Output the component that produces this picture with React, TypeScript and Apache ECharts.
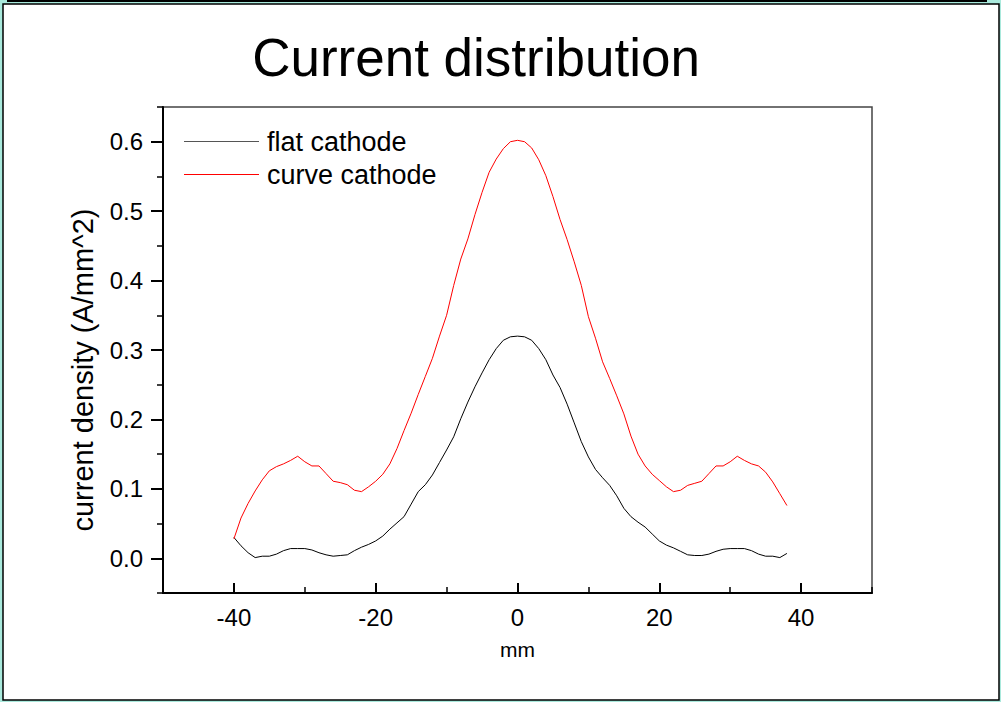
import React, { useEffect, useRef } from "react";
import * as echarts from "echarts";

const xValues = [
  -40, -39, -38, -37, -36, -35, -34, -33, -32, -31, -30, -29, -28, -27, -26, -25, -24, -23, -22, -21,
  -20, -19, -18, -17, -16, -15, -14, -13, -12, -11, -10, -9, -8, -7, -6, -5, -4, -3, -2, -1,
  0, 1, 2, 3, 4, 5, 6, 7, 8, 9, 10, 11, 12, 13, 14, 15, 16, 17, 18, 19,
  20, 21, 22, 23, 24, 25, 26, 27, 28, 29, 30, 31, 32, 33, 34, 35, 36, 37, 38,
];

const flatCathode = [
  0.030, 0.018, 0.008, 0.001, 0.003, 0.003, 0.006, 0.011, 0.014, 0.014, 0.014, 0.012, 0.008, 0.005, 0.003, 0.004, 0.005, 0.011, 0.016, 0.020,
  0.025, 0.032, 0.042, 0.051, 0.060, 0.078, 0.096, 0.106, 0.120, 0.138, 0.156, 0.175, 0.201, 0.225, 0.247, 0.267, 0.286, 0.302, 0.314, 0.319,
  0.320, 0.319, 0.314, 0.302, 0.286, 0.264, 0.246, 0.222, 0.195, 0.168, 0.146, 0.128, 0.116, 0.105, 0.090, 0.072, 0.060, 0.052, 0.045, 0.035,
  0.025, 0.019, 0.015, 0.010, 0.005, 0.004, 0.004, 0.006, 0.010, 0.013, 0.014, 0.014, 0.014, 0.011, 0.006, 0.003, 0.003, 0.001, 0.007,
];

const curveCathode = [
  0.028, 0.058, 0.079, 0.097, 0.113, 0.126, 0.132, 0.136, 0.141, 0.147, 0.139, 0.133, 0.133, 0.122, 0.111, 0.109, 0.106, 0.098, 0.096, 0.103,
  0.111, 0.121, 0.136, 0.158, 0.184, 0.209, 0.236, 0.262, 0.288, 0.320, 0.350, 0.393, 0.431, 0.460, 0.495, 0.527, 0.556, 0.575, 0.590, 0.600,
  0.602, 0.600, 0.591, 0.574, 0.551, 0.521, 0.488, 0.459, 0.427, 0.393, 0.348, 0.317, 0.283, 0.259, 0.234, 0.208, 0.176, 0.150, 0.133, 0.121,
  0.112, 0.103, 0.096, 0.098, 0.105, 0.108, 0.111, 0.122, 0.133, 0.133, 0.139, 0.147, 0.141, 0.136, 0.133, 0.124, 0.110, 0.093, 0.076,
];

const xTickLabels = [-40, -20, 0, 20, 40];
const yTickLabels = [0, 0.1, 0.2, 0.3, 0.4, 0.5, 0.6];

const FONT = "'Liberation Sans', Arial, sans-serif";

export default function App() {
  const ref = useRef<HTMLDivElement>(null);

  useEffect(() => {
    if (!ref.current) return;
    const chart = echarts.init(ref.current, null, { renderer: "svg" });
    const flatData = xValues.map((x, i) => [x, flatCathode[i]]);
    const curveData = xValues.map((x, i) => [x, curveCathode[i]]);

    chart.setOption({
      animation: false,
      backgroundColor: "#a9e9dc",
      title: {
        text: "Current distribution",
        left: 476,
        textAlign: "center",
        top: 31,
        padding: 0,
        textStyle: { fontFamily: FONT, fontSize: 53, fontWeight: "normal", color: "#000", lineHeight: 53 },
      },
      graphic: [
        { type: "rect", z: -10, shape: { x: 3, y: 4, width: 996, height: 696 }, style: { fill: "#fff", stroke: "#000", lineWidth: 1.5 } },
        { type: "rect", z: -10, shape: { x: 7, y: 0, width: 980, height: 2 }, style: { fill: "#000" } },
        {
          type: "text",
          x: 83,
          y: 370,
          rotation: Math.PI / 2,
          style: {
            text: "current density (A/mm^2)",
            fontFamily: FONT,
            fontSize: 29,
            fill: "#000",
            textAlign: "center",
            textVerticalAlign: "middle",
          },
        },
      ],
      legend: {
        orient: "vertical",
        left: 184,
        top: 128,
        padding: 0,
        icon: "rect",
        itemWidth: 75,
        itemHeight: 1,
        itemGap: 6,
        textStyle: { fontFamily: FONT, fontSize: 27, color: "#000", lineHeight: 27, padding: [0, 0, 0, 3] },
        data: [
          { name: "flat cathode", itemStyle: { color: "#555" } },
          { name: "curve cathode", itemStyle: { color: "#ff0000" } },
        ],
      },
      grid: {
        left: 163,
        top: 107,
        width: 709,
        height: 486,
        show: true,
        borderColor: "#444",
        borderWidth: 1.5,
        backgroundColor: "transparent",
      },
      xAxis: [
        {
          type: "value",
          min: -50,
          max: 50,
          position: "bottom",
          axisLine: { show: true, onZero: false, lineStyle: { color: "#000", width: 2 } },
          axisTick: { show: true, inside: true, length: 10, customValues: xTickLabels, lineStyle: { color: "#000", width: 2 } },
          axisLabel: { customValues: xTickLabels, fontFamily: FONT, fontSize: 24, color: "#000", margin: 12 },
          splitLine: { show: false },
          name: "mm",
          nameLocation: "middle",
          nameGap: 46,
          nameTextStyle: { fontFamily: FONT, fontSize: 21, color: "#000" },
        },
        {
          type: "value",
          min: -50,
          max: 50,
          interval: 10,
          position: "bottom",
          axisLine: { show: false, onZero: false },
          axisTick: { show: true, inside: true, length: 6, lineStyle: { color: "#000", width: 1.5 } },
          axisLabel: { show: false },
          splitLine: { show: false },
        },
      ],
      yAxis: [
        {
          type: "value",
          min: -0.05,
          max: 0.65,
          position: "left",
          axisLine: { show: true, onZero: false, lineStyle: { color: "#000", width: 2 } },
          axisTick: { show: true, inside: false, length: 12, customValues: yTickLabels, lineStyle: { color: "#000", width: 2 } },
          axisLabel: {
            customValues: yTickLabels,
            formatter: (v: number) => v.toFixed(1),
            fontFamily: FONT,
            fontSize: 24,
            color: "#000",
            margin: 20,
          },
          splitLine: { show: false },
        },
        {
          type: "value",
          min: -0.05,
          max: 0.65,
          interval: 0.05,
          position: "left",
          axisLine: { show: false, onZero: false },
          axisTick: { show: true, inside: false, length: 6, lineStyle: { color: "#000", width: 1.5 } },
          axisLabel: { show: false },
          splitLine: { show: false },
        },
      ],
      series: [
        {
          name: "flat cathode",
          type: "line",
          xAxisIndex: 0,
          yAxisIndex: 0,
          data: flatData,
          symbol: "none",
          smooth: false,
          lineStyle: { color: "#000", width: 1 },
          itemStyle: { color: "#000" },
        },
        {
          name: "curve cathode",
          type: "line",
          xAxisIndex: 0,
          yAxisIndex: 0,
          data: curveData,
          symbol: "none",
          smooth: false,
          lineStyle: { color: "#ff0000", width: 1 },
          itemStyle: { color: "#ff0000" },
        },
      ],
    });

    return () => chart.dispose();
  }, []);

  return <div ref={ref} style={{ position: "fixed", left: 0, top: 0, width: 1001, height: 702 }} />;
}
